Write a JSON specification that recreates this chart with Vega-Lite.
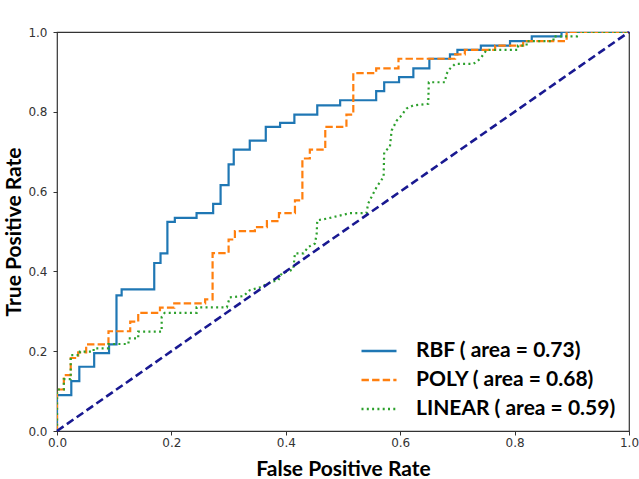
{
  "$schema": "https://vega.github.io/schema/vega-lite/v6.json",
  "autosize": {"type": "none"},
  "width": 572,
  "height": 399,
  "padding": {"left": 57, "top": 32, "right": 10, "bottom": 48},
  "background": "white",
  "config": {
    "view": {"stroke": "#333", "strokeWidth": 1.2},
    "axis": {
      "grid": false, "domain": false, "tickColor": "#333", "tickSize": 4, "tickWidth": 1, "labelFlush": false,
      "labelFont": "DejaVu Sans", "labelFontSize": 12, "labelColor": "#333",
      "titleFont": "Lato", "titleFontWeight": "bold", "titleFontSize": 21, "titleColor": "#000"
    },
    "legend": {"labelFont": "Lato", "labelFontWeight": "bold", "labelFontSize": 21, "labelColor": "#000", "labelLimit": 0}
  },
  "datasets": {
    "roc": [
      {"model": "RBF ( area = 0.73)", "o": 0, "fpr": 0, "tpr": 0},
      {"model": "RBF ( area = 0.73)", "o": 1, "fpr": 0, "tpr": 0.09},
      {"model": "RBF ( area = 0.73)", "o": 2, "fpr": 0.025, "tpr": 0.09},
      {"model": "RBF ( area = 0.73)", "o": 3, "fpr": 0.025, "tpr": 0.125},
      {"model": "RBF ( area = 0.73)", "o": 4, "fpr": 0.039, "tpr": 0.125},
      {"model": "RBF ( area = 0.73)", "o": 5, "fpr": 0.039, "tpr": 0.161},
      {"model": "RBF ( area = 0.73)", "o": 6, "fpr": 0.065, "tpr": 0.161},
      {"model": "RBF ( area = 0.73)", "o": 7, "fpr": 0.065, "tpr": 0.195},
      {"model": "RBF ( area = 0.73)", "o": 8, "fpr": 0.091, "tpr": 0.195},
      {"model": "RBF ( area = 0.73)", "o": 9, "fpr": 0.091, "tpr": 0.217},
      {"model": "RBF ( area = 0.73)", "o": 10, "fpr": 0.104, "tpr": 0.217},
      {"model": "RBF ( area = 0.73)", "o": 11, "fpr": 0.104, "tpr": 0.34},
      {"model": "RBF ( area = 0.73)", "o": 12, "fpr": 0.113, "tpr": 0.34},
      {"model": "RBF ( area = 0.73)", "o": 13, "fpr": 0.113, "tpr": 0.355},
      {"model": "RBF ( area = 0.73)", "o": 14, "fpr": 0.17, "tpr": 0.355},
      {"model": "RBF ( area = 0.73)", "o": 15, "fpr": 0.17, "tpr": 0.421},
      {"model": "RBF ( area = 0.73)", "o": 16, "fpr": 0.181, "tpr": 0.421},
      {"model": "RBF ( area = 0.73)", "o": 17, "fpr": 0.181, "tpr": 0.445},
      {"model": "RBF ( area = 0.73)", "o": 18, "fpr": 0.193, "tpr": 0.445},
      {"model": "RBF ( area = 0.73)", "o": 19, "fpr": 0.193, "tpr": 0.524},
      {"model": "RBF ( area = 0.73)", "o": 20, "fpr": 0.206, "tpr": 0.524},
      {"model": "RBF ( area = 0.73)", "o": 21, "fpr": 0.206, "tpr": 0.534},
      {"model": "RBF ( area = 0.73)", "o": 22, "fpr": 0.244, "tpr": 0.534},
      {"model": "RBF ( area = 0.73)", "o": 23, "fpr": 0.244, "tpr": 0.546},
      {"model": "RBF ( area = 0.73)", "o": 24, "fpr": 0.273, "tpr": 0.546},
      {"model": "RBF ( area = 0.73)", "o": 25, "fpr": 0.273, "tpr": 0.569},
      {"model": "RBF ( area = 0.73)", "o": 26, "fpr": 0.286, "tpr": 0.569},
      {"model": "RBF ( area = 0.73)", "o": 27, "fpr": 0.286, "tpr": 0.616},
      {"model": "RBF ( area = 0.73)", "o": 28, "fpr": 0.3, "tpr": 0.616},
      {"model": "RBF ( area = 0.73)", "o": 29, "fpr": 0.3, "tpr": 0.668},
      {"model": "RBF ( area = 0.73)", "o": 30, "fpr": 0.309, "tpr": 0.668},
      {"model": "RBF ( area = 0.73)", "o": 31, "fpr": 0.309, "tpr": 0.705},
      {"model": "RBF ( area = 0.73)", "o": 32, "fpr": 0.337, "tpr": 0.705},
      {"model": "RBF ( area = 0.73)", "o": 33, "fpr": 0.337, "tpr": 0.728},
      {"model": "RBF ( area = 0.73)", "o": 34, "fpr": 0.365, "tpr": 0.728},
      {"model": "RBF ( area = 0.73)", "o": 35, "fpr": 0.365, "tpr": 0.762},
      {"model": "RBF ( area = 0.73)", "o": 36, "fpr": 0.39, "tpr": 0.762},
      {"model": "RBF ( area = 0.73)", "o": 37, "fpr": 0.39, "tpr": 0.772},
      {"model": "RBF ( area = 0.73)", "o": 38, "fpr": 0.415, "tpr": 0.772},
      {"model": "RBF ( area = 0.73)", "o": 39, "fpr": 0.415, "tpr": 0.793},
      {"model": "RBF ( area = 0.73)", "o": 40, "fpr": 0.455, "tpr": 0.793},
      {"model": "RBF ( area = 0.73)", "o": 41, "fpr": 0.455, "tpr": 0.816},
      {"model": "RBF ( area = 0.73)", "o": 42, "fpr": 0.495, "tpr": 0.816},
      {"model": "RBF ( area = 0.73)", "o": 43, "fpr": 0.495, "tpr": 0.829},
      {"model": "RBF ( area = 0.73)", "o": 44, "fpr": 0.558, "tpr": 0.829},
      {"model": "RBF ( area = 0.73)", "o": 45, "fpr": 0.558, "tpr": 0.852},
      {"model": "RBF ( area = 0.73)", "o": 46, "fpr": 0.572, "tpr": 0.852},
      {"model": "RBF ( area = 0.73)", "o": 47, "fpr": 0.572, "tpr": 0.874},
      {"model": "RBF ( area = 0.73)", "o": 48, "fpr": 0.598, "tpr": 0.874},
      {"model": "RBF ( area = 0.73)", "o": 49, "fpr": 0.598, "tpr": 0.887},
      {"model": "RBF ( area = 0.73)", "o": 50, "fpr": 0.623, "tpr": 0.887},
      {"model": "RBF ( area = 0.73)", "o": 51, "fpr": 0.623, "tpr": 0.909},
      {"model": "RBF ( area = 0.73)", "o": 52, "fpr": 0.651, "tpr": 0.909},
      {"model": "RBF ( area = 0.73)", "o": 53, "fpr": 0.651, "tpr": 0.933},
      {"model": "RBF ( area = 0.73)", "o": 54, "fpr": 0.687, "tpr": 0.933},
      {"model": "RBF ( area = 0.73)", "o": 55, "fpr": 0.687, "tpr": 0.944},
      {"model": "RBF ( area = 0.73)", "o": 56, "fpr": 0.7, "tpr": 0.944},
      {"model": "RBF ( area = 0.73)", "o": 57, "fpr": 0.7, "tpr": 0.955},
      {"model": "RBF ( area = 0.73)", "o": 58, "fpr": 0.741, "tpr": 0.955},
      {"model": "RBF ( area = 0.73)", "o": 59, "fpr": 0.741, "tpr": 0.966},
      {"model": "RBF ( area = 0.73)", "o": 60, "fpr": 0.792, "tpr": 0.966},
      {"model": "RBF ( area = 0.73)", "o": 61, "fpr": 0.792, "tpr": 0.977},
      {"model": "RBF ( area = 0.73)", "o": 62, "fpr": 0.83, "tpr": 0.977},
      {"model": "RBF ( area = 0.73)", "o": 63, "fpr": 0.83, "tpr": 0.989},
      {"model": "RBF ( area = 0.73)", "o": 64, "fpr": 0.882, "tpr": 0.989},
      {"model": "RBF ( area = 0.73)", "o": 65, "fpr": 0.882, "tpr": 1.0},
      {"model": "RBF ( area = 0.73)", "o": 66, "fpr": 1.0, "tpr": 1.0},

      {"model": "POLY ( area = 0.68)", "o": 0, "fpr": 0, "tpr": 0},
      {"model": "POLY ( area = 0.68)", "o": 1, "fpr": 0, "tpr": 0.104},
      {"model": "POLY ( area = 0.68)", "o": 2, "fpr": 0.012, "tpr": 0.104},
      {"model": "POLY ( area = 0.68)", "o": 3, "fpr": 0.012, "tpr": 0.14},
      {"model": "POLY ( area = 0.68)", "o": 4, "fpr": 0.024, "tpr": 0.14},
      {"model": "POLY ( area = 0.68)", "o": 5, "fpr": 0.024, "tpr": 0.183},
      {"model": "POLY ( area = 0.68)", "o": 6, "fpr": 0.037, "tpr": 0.183},
      {"model": "POLY ( area = 0.68)", "o": 7, "fpr": 0.037, "tpr": 0.197},
      {"model": "POLY ( area = 0.68)", "o": 8, "fpr": 0.051, "tpr": 0.197},
      {"model": "POLY ( area = 0.68)", "o": 9, "fpr": 0.051, "tpr": 0.217},
      {"model": "POLY ( area = 0.68)", "o": 10, "fpr": 0.09, "tpr": 0.217},
      {"model": "POLY ( area = 0.68)", "o": 11, "fpr": 0.09, "tpr": 0.25},
      {"model": "POLY ( area = 0.68)", "o": 12, "fpr": 0.128, "tpr": 0.25},
      {"model": "POLY ( area = 0.68)", "o": 13, "fpr": 0.128, "tpr": 0.274},
      {"model": "POLY ( area = 0.68)", "o": 14, "fpr": 0.142, "tpr": 0.274},
      {"model": "POLY ( area = 0.68)", "o": 15, "fpr": 0.142, "tpr": 0.296},
      {"model": "POLY ( area = 0.68)", "o": 16, "fpr": 0.18, "tpr": 0.296},
      {"model": "POLY ( area = 0.68)", "o": 17, "fpr": 0.18, "tpr": 0.309},
      {"model": "POLY ( area = 0.68)", "o": 18, "fpr": 0.205, "tpr": 0.309},
      {"model": "POLY ( area = 0.68)", "o": 19, "fpr": 0.205, "tpr": 0.32},
      {"model": "POLY ( area = 0.68)", "o": 20, "fpr": 0.259, "tpr": 0.32},
      {"model": "POLY ( area = 0.68)", "o": 21, "fpr": 0.259, "tpr": 0.33},
      {"model": "POLY ( area = 0.68)", "o": 22, "fpr": 0.272, "tpr": 0.33},
      {"model": "POLY ( area = 0.68)", "o": 23, "fpr": 0.272, "tpr": 0.446},
      {"model": "POLY ( area = 0.68)", "o": 24, "fpr": 0.3, "tpr": 0.446},
      {"model": "POLY ( area = 0.68)", "o": 25, "fpr": 0.3, "tpr": 0.48},
      {"model": "POLY ( area = 0.68)", "o": 26, "fpr": 0.311, "tpr": 0.48},
      {"model": "POLY ( area = 0.68)", "o": 27, "fpr": 0.311, "tpr": 0.501},
      {"model": "POLY ( area = 0.68)", "o": 28, "fpr": 0.346, "tpr": 0.501},
      {"model": "POLY ( area = 0.68)", "o": 29, "fpr": 0.346, "tpr": 0.511},
      {"model": "POLY ( area = 0.68)", "o": 30, "fpr": 0.367, "tpr": 0.511},
      {"model": "POLY ( area = 0.68)", "o": 31, "fpr": 0.367, "tpr": 0.526},
      {"model": "POLY ( area = 0.68)", "o": 32, "fpr": 0.388, "tpr": 0.526},
      {"model": "POLY ( area = 0.68)", "o": 33, "fpr": 0.388, "tpr": 0.546},
      {"model": "POLY ( area = 0.68)", "o": 34, "fpr": 0.416, "tpr": 0.546},
      {"model": "POLY ( area = 0.68)", "o": 35, "fpr": 0.416, "tpr": 0.578},
      {"model": "POLY ( area = 0.68)", "o": 36, "fpr": 0.429, "tpr": 0.578},
      {"model": "POLY ( area = 0.68)", "o": 37, "fpr": 0.429, "tpr": 0.683},
      {"model": "POLY ( area = 0.68)", "o": 38, "fpr": 0.442, "tpr": 0.683},
      {"model": "POLY ( area = 0.68)", "o": 39, "fpr": 0.442, "tpr": 0.705},
      {"model": "POLY ( area = 0.68)", "o": 40, "fpr": 0.469, "tpr": 0.705},
      {"model": "POLY ( area = 0.68)", "o": 41, "fpr": 0.469, "tpr": 0.762},
      {"model": "POLY ( area = 0.68)", "o": 42, "fpr": 0.506, "tpr": 0.762},
      {"model": "POLY ( area = 0.68)", "o": 43, "fpr": 0.506, "tpr": 0.793},
      {"model": "POLY ( area = 0.68)", "o": 44, "fpr": 0.518, "tpr": 0.793},
      {"model": "POLY ( area = 0.68)", "o": 45, "fpr": 0.518, "tpr": 0.897},
      {"model": "POLY ( area = 0.68)", "o": 46, "fpr": 0.558, "tpr": 0.897},
      {"model": "POLY ( area = 0.68)", "o": 47, "fpr": 0.558, "tpr": 0.909},
      {"model": "POLY ( area = 0.68)", "o": 48, "fpr": 0.597, "tpr": 0.909},
      {"model": "POLY ( area = 0.68)", "o": 49, "fpr": 0.597, "tpr": 0.933},
      {"model": "POLY ( area = 0.68)", "o": 50, "fpr": 0.696, "tpr": 0.933},
      {"model": "POLY ( area = 0.68)", "o": 51, "fpr": 0.696, "tpr": 0.944},
      {"model": "POLY ( area = 0.68)", "o": 52, "fpr": 0.713, "tpr": 0.944},
      {"model": "POLY ( area = 0.68)", "o": 53, "fpr": 0.713, "tpr": 0.955},
      {"model": "POLY ( area = 0.68)", "o": 54, "fpr": 0.766, "tpr": 0.955},
      {"model": "POLY ( area = 0.68)", "o": 55, "fpr": 0.766, "tpr": 0.966},
      {"model": "POLY ( area = 0.68)", "o": 56, "fpr": 0.815, "tpr": 0.966},
      {"model": "POLY ( area = 0.68)", "o": 57, "fpr": 0.815, "tpr": 0.977},
      {"model": "POLY ( area = 0.68)", "o": 58, "fpr": 0.891, "tpr": 0.977},
      {"model": "POLY ( area = 0.68)", "o": 59, "fpr": 0.891, "tpr": 1.0},
      {"model": "POLY ( area = 0.68)", "o": 60, "fpr": 1.0, "tpr": 1.0},

      {"model": "LINEAR ( area = 0.59)", "o": 0, "fpr": 0, "tpr": 0},
      {"model": "LINEAR ( area = 0.59)", "o": 1, "fpr": 0, "tpr": 0.104},
      {"model": "LINEAR ( area = 0.59)", "o": 2, "fpr": 0.012, "tpr": 0.104},
      {"model": "LINEAR ( area = 0.59)", "o": 3, "fpr": 0.012, "tpr": 0.13},
      {"model": "LINEAR ( area = 0.59)", "o": 4, "fpr": 0.024, "tpr": 0.13},
      {"model": "LINEAR ( area = 0.59)", "o": 5, "fpr": 0.024, "tpr": 0.19},
      {"model": "LINEAR ( area = 0.59)", "o": 6, "fpr": 0.04, "tpr": 0.19},
      {"model": "LINEAR ( area = 0.59)", "o": 7, "fpr": 0.04, "tpr": 0.199},
      {"model": "LINEAR ( area = 0.59)", "o": 8, "fpr": 0.064, "tpr": 0.199},
      {"model": "LINEAR ( area = 0.59)", "o": 9, "fpr": 0.064, "tpr": 0.207},
      {"model": "LINEAR ( area = 0.59)", "o": 10, "fpr": 0.09, "tpr": 0.207},
      {"model": "LINEAR ( area = 0.59)", "o": 11, "fpr": 0.09, "tpr": 0.218},
      {"model": "LINEAR ( area = 0.59)", "o": 12, "fpr": 0.125, "tpr": 0.218},
      {"model": "LINEAR ( area = 0.59)", "o": 13, "fpr": 0.125, "tpr": 0.232},
      {"model": "LINEAR ( area = 0.59)", "o": 14, "fpr": 0.142, "tpr": 0.232},
      {"model": "LINEAR ( area = 0.59)", "o": 15, "fpr": 0.142, "tpr": 0.249},
      {"model": "LINEAR ( area = 0.59)", "o": 16, "fpr": 0.183, "tpr": 0.249},
      {"model": "LINEAR ( area = 0.59)", "o": 17, "fpr": 0.183, "tpr": 0.286},
      {"model": "LINEAR ( area = 0.59)", "o": 18, "fpr": 0.188, "tpr": 0.296},
      {"model": "LINEAR ( area = 0.59)", "o": 19, "fpr": 0.244, "tpr": 0.296},
      {"model": "LINEAR ( area = 0.59)", "o": 20, "fpr": 0.244, "tpr": 0.31},
      {"model": "LINEAR ( area = 0.59)", "o": 21, "fpr": 0.297, "tpr": 0.31},
      {"model": "LINEAR ( area = 0.59)", "o": 22, "fpr": 0.302, "tpr": 0.335},
      {"model": "LINEAR ( area = 0.59)", "o": 23, "fpr": 0.326, "tpr": 0.338},
      {"model": "LINEAR ( area = 0.59)", "o": 24, "fpr": 0.337, "tpr": 0.353},
      {"model": "LINEAR ( area = 0.59)", "o": 25, "fpr": 0.355, "tpr": 0.36},
      {"model": "LINEAR ( area = 0.59)", "o": 26, "fpr": 0.375, "tpr": 0.374},
      {"model": "LINEAR ( area = 0.59)", "o": 27, "fpr": 0.387, "tpr": 0.378},
      {"model": "LINEAR ( area = 0.59)", "o": 28, "fpr": 0.393, "tpr": 0.395},
      {"model": "LINEAR ( area = 0.59)", "o": 29, "fpr": 0.413, "tpr": 0.405},
      {"model": "LINEAR ( area = 0.59)", "o": 30, "fpr": 0.416, "tpr": 0.445},
      {"model": "LINEAR ( area = 0.59)", "o": 31, "fpr": 0.431, "tpr": 0.445},
      {"model": "LINEAR ( area = 0.59)", "o": 32, "fpr": 0.439, "tpr": 0.461},
      {"model": "LINEAR ( area = 0.59)", "o": 33, "fpr": 0.451, "tpr": 0.47},
      {"model": "LINEAR ( area = 0.59)", "o": 34, "fpr": 0.454, "tpr": 0.495},
      {"model": "LINEAR ( area = 0.59)", "o": 35, "fpr": 0.455, "tpr": 0.528},
      {"model": "LINEAR ( area = 0.59)", "o": 36, "fpr": 0.471, "tpr": 0.532},
      {"model": "LINEAR ( area = 0.59)", "o": 37, "fpr": 0.512, "tpr": 0.546},
      {"model": "LINEAR ( area = 0.59)", "o": 38, "fpr": 0.541, "tpr": 0.546},
      {"model": "LINEAR ( area = 0.59)", "o": 39, "fpr": 0.544, "tpr": 0.57},
      {"model": "LINEAR ( area = 0.59)", "o": 40, "fpr": 0.559, "tpr": 0.612},
      {"model": "LINEAR ( area = 0.59)", "o": 41, "fpr": 0.571, "tpr": 0.637},
      {"model": "LINEAR ( area = 0.59)", "o": 42, "fpr": 0.572, "tpr": 0.699},
      {"model": "LINEAR ( area = 0.59)", "o": 43, "fpr": 0.582, "tpr": 0.712},
      {"model": "LINEAR ( area = 0.59)", "o": 44, "fpr": 0.585, "tpr": 0.753},
      {"model": "LINEAR ( area = 0.59)", "o": 45, "fpr": 0.594, "tpr": 0.778},
      {"model": "LINEAR ( area = 0.59)", "o": 46, "fpr": 0.6, "tpr": 0.787},
      {"model": "LINEAR ( area = 0.59)", "o": 47, "fpr": 0.611, "tpr": 0.808},
      {"model": "LINEAR ( area = 0.59)", "o": 48, "fpr": 0.623, "tpr": 0.816},
      {"model": "LINEAR ( area = 0.59)", "o": 49, "fpr": 0.649, "tpr": 0.82},
      {"model": "LINEAR ( area = 0.59)", "o": 50, "fpr": 0.65, "tpr": 0.874},
      {"model": "LINEAR ( area = 0.59)", "o": 51, "fpr": 0.678, "tpr": 0.874},
      {"model": "LINEAR ( area = 0.59)", "o": 52, "fpr": 0.681, "tpr": 0.895},
      {"model": "LINEAR ( area = 0.59)", "o": 53, "fpr": 0.687, "tpr": 0.908},
      {"model": "LINEAR ( area = 0.59)", "o": 54, "fpr": 0.696, "tpr": 0.92},
      {"model": "LINEAR ( area = 0.59)", "o": 55, "fpr": 0.728, "tpr": 0.92},
      {"model": "LINEAR ( area = 0.59)", "o": 56, "fpr": 0.74, "tpr": 0.933},
      {"model": "LINEAR ( area = 0.59)", "o": 57, "fpr": 0.751, "tpr": 0.955},
      {"model": "LINEAR ( area = 0.59)", "o": 58, "fpr": 0.806, "tpr": 0.955},
      {"model": "LINEAR ( area = 0.59)", "o": 59, "fpr": 0.806, "tpr": 0.966},
      {"model": "LINEAR ( area = 0.59)", "o": 60, "fpr": 0.821, "tpr": 0.966},
      {"model": "LINEAR ( area = 0.59)", "o": 61, "fpr": 0.821, "tpr": 0.977},
      {"model": "LINEAR ( area = 0.59)", "o": 62, "fpr": 0.868, "tpr": 0.977},
      {"model": "LINEAR ( area = 0.59)", "o": 63, "fpr": 0.868, "tpr": 0.989},
      {"model": "LINEAR ( area = 0.59)", "o": 64, "fpr": 0.909, "tpr": 0.989},
      {"model": "LINEAR ( area = 0.59)", "o": 65, "fpr": 0.909, "tpr": 1.0},
      {"model": "LINEAR ( area = 0.59)", "o": 66, "fpr": 1.0, "tpr": 1.0}
    ],
    "diag": [
      {"fpr": 0, "tpr": 0},
      {"fpr": 1, "tpr": 1}
    ]
  },
  "layer": [
    {
      "data": {"name": "roc"},
      "mark": {"type": "line", "strokeWidth": 2.2, "clip": true},
      "encoding": {
        "x": {"field": "fpr", "type": "quantitative", "scale": {"domain": [0, 1], "nice": false},
              "axis": {"title": "False Positive Rate", "values": [0, 0.2, 0.4, 0.6, 0.8, 1.0], "format": ".1f", "labelPadding": 2, "titlePadding": 10}},
        "y": {"field": "tpr", "type": "quantitative", "scale": {"domain": [0, 1], "nice": false},
              "axis": {"title": "True Positive Rate", "values": [0, 0.2, 0.4, 0.6, 0.8, 1.0], "format": ".1f", "labelPadding": 6, "titlePadding": 3}},
        "order": {"field": "o", "type": "quantitative"},
        "color": {
          "field": "model", "type": "nominal",
          "scale": {"domain": ["RBF ( area = 0.73)", "POLY ( area = 0.68)", "LINEAR ( area = 0.59)"], "range": ["#1f77b4", "#ff7f0e", "#2ca02c"]},
          "legend": {"title": null, "orient": "none", "legendX": 303, "legendY": 300, "symbolType": "stroke", "symbolSize": 1225, "symbolStrokeWidth": 2.5, "labelOffset": 18, "rowPadding": 0, "padding": 0}
        },
        "strokeDash": {
          "field": "model", "type": "nominal",
          "scale": {"domain": ["RBF ( area = 0.73)", "POLY ( area = 0.68)", "LINEAR ( area = 0.59)"], "range": [[1, 0], [7.4, 3.2], [2, 3.3]]},
          "legend": {"title": null, "orient": "none", "legendX": 303, "legendY": 300, "symbolType": "stroke", "symbolSize": 1225, "symbolStrokeWidth": 2.5, "labelOffset": 18, "rowPadding": 0, "padding": 0}
        }
      }
    },
    {
      "data": {"name": "diag"},
      "mark": {"type": "line", "color": "#191991", "strokeWidth": 2.6, "strokeDash": [8, 4]},
      "encoding": {
        "x": {"field": "fpr", "type": "quantitative"},
        "y": {"field": "tpr", "type": "quantitative"}
      }
    }
  ]
}
